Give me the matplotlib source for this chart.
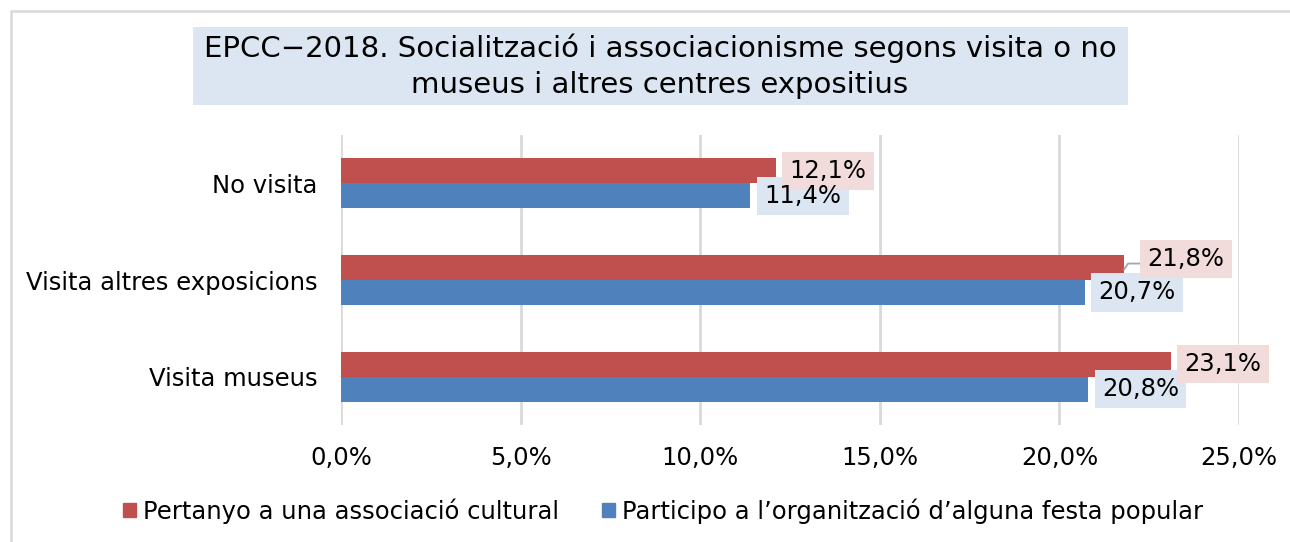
import matplotlib
matplotlib.use("Agg")
import matplotlib.pyplot as plt
from matplotlib.patches import Rectangle, Patch
from matplotlib.ticker import FuncFormatter, MultipleLocator

plt.rcParams['font.family'] = ['DejaVu Sans']

categories = ["No visita", "Visita altres exposicions", "Visita museus"]
series_names = ["Pertanyo a una associació cultural",
                "Participo a l\u2019organització d\u2019alguna festa popular"]
cultural = [12.1, 21.8, 23.1]
festa = [11.4, 20.7, 20.8]
title = "EPCC\u22122018. Socialització i associacionisme segons visita o no\nmuseus i altres centres expositius"

RED = "#C0504D"
BLUE = "#4F81BD"
RED_BOX = "#F2DCDB"
BLUE_BOX = "#DCE6F2"
GRID = "#D9D9D9"
FS = 17.5

W, H = 1290, 542
fig = plt.figure(figsize=(W / 100, H / 100), dpi=100)
ax = fig.add_axes([341 / W, 1 - 425 / H, 898 / W, 290 / H])

h = 0.258
y = list(range(len(categories)))
ax.barh([v - h / 2 for v in y], cultural, height=h, color=RED, zorder=2)
ax.barh([v + h / 2 for v in y], festa, height=h, color=BLUE, zorder=2)

ax.set_xlim(0, 25)
ax.set_ylim(2.5, -0.5)
ax.xaxis.set_major_locator(MultipleLocator(5))
ax.xaxis.set_major_formatter(FuncFormatter(lambda v, p: f"{v:.1f}%".replace(".", ",")))
ax.set_yticks(y)
ax.set_yticklabels(categories)
ax.grid(axis='x', color=GRID, linewidth=2, zorder=0)
for s in ax.spines.values():
    s.set_visible(False)
ax.tick_params(axis='both', length=0, labelsize=FS)
ax.tick_params(axis='x', pad=15)
ax.tick_params(axis='y', pad=17)


def fmt(v):
    return f"{v:.1f}%".replace(".", ",")


# data labels: boxes first (blue, then pink on top), texts above all boxes
specs = []
for i, v in enumerate(festa):
    specs.append((v, i + h / 2, 10, 0, BLUE_BOX, 4))
for i, v in enumerate(cultural):
    dx, dy = 10, 0
    if i == 1:
        dx, dy = 17, 6
    specs.append((v, i - h / 2, dx, dy, RED_BOX, 5))
for v, yy, dx, dy, fc, z in specs:
    ax.annotate(fmt(v), xy=(v, yy), xytext=(dx, dy), textcoords='offset points',
                ha='left', va='center', fontsize=FS, color='none',
                bbox=dict(boxstyle='square,pad=0.3', fc=fc, ec='none'), zorder=z)
    ax.annotate(fmt(v), xy=(v, yy), xytext=(dx, dy), textcoords='offset points',
                ha='left', va='center', fontsize=FS, color='black', zorder=6)

# leader line for the moved label
i = 1
v = cultural[i]
p0 = ax.transData.transform((v, i - h / 2))
pts = [(p0[0], p0[1] - 2), (p0[0] + 4, p0[1] + 4), (p0[0] + 16, p0[1] + 4)]
inv = ax.transData.inverted()
dp = [inv.transform(p) for p in pts]
ax.plot([q[0] for q in dp], [q[1] for q in dp], color="#A6A6A6", lw=1.3,
        zorder=3, clip_on=False)

# title
fig.patches.append(Rectangle((193 / W, 1 - 105 / H), (1128 - 193) / W, 78 / H,
                             transform=fig.transFigure, fc=BLUE_BOX, ec='none', zorder=0))
fig.text(660 / W, 1 - 66 / H, title, ha='center', va='center', fontsize=21,
         linespacing=1.36)

# outer border
fig.patches.append(Rectangle((11 / W, -0.05), 1.1, 1 - 11 / H + 0.05,
                             transform=fig.transFigure, fc='none', ec=GRID, lw=1.8))

handles = [Patch(color=RED), Patch(color=BLUE)]
fig.legend(handles, series_names, loc='center', bbox_to_anchor=(663 / W, 1 - 511 / H),
           ncol=2, frameon=False, fontsize=FS, handlelength=0.55, handleheight=0.55,
           handletextpad=0.28, columnspacing=1.75, borderaxespad=0)

fig.savefig("out.png", dpi=100)
